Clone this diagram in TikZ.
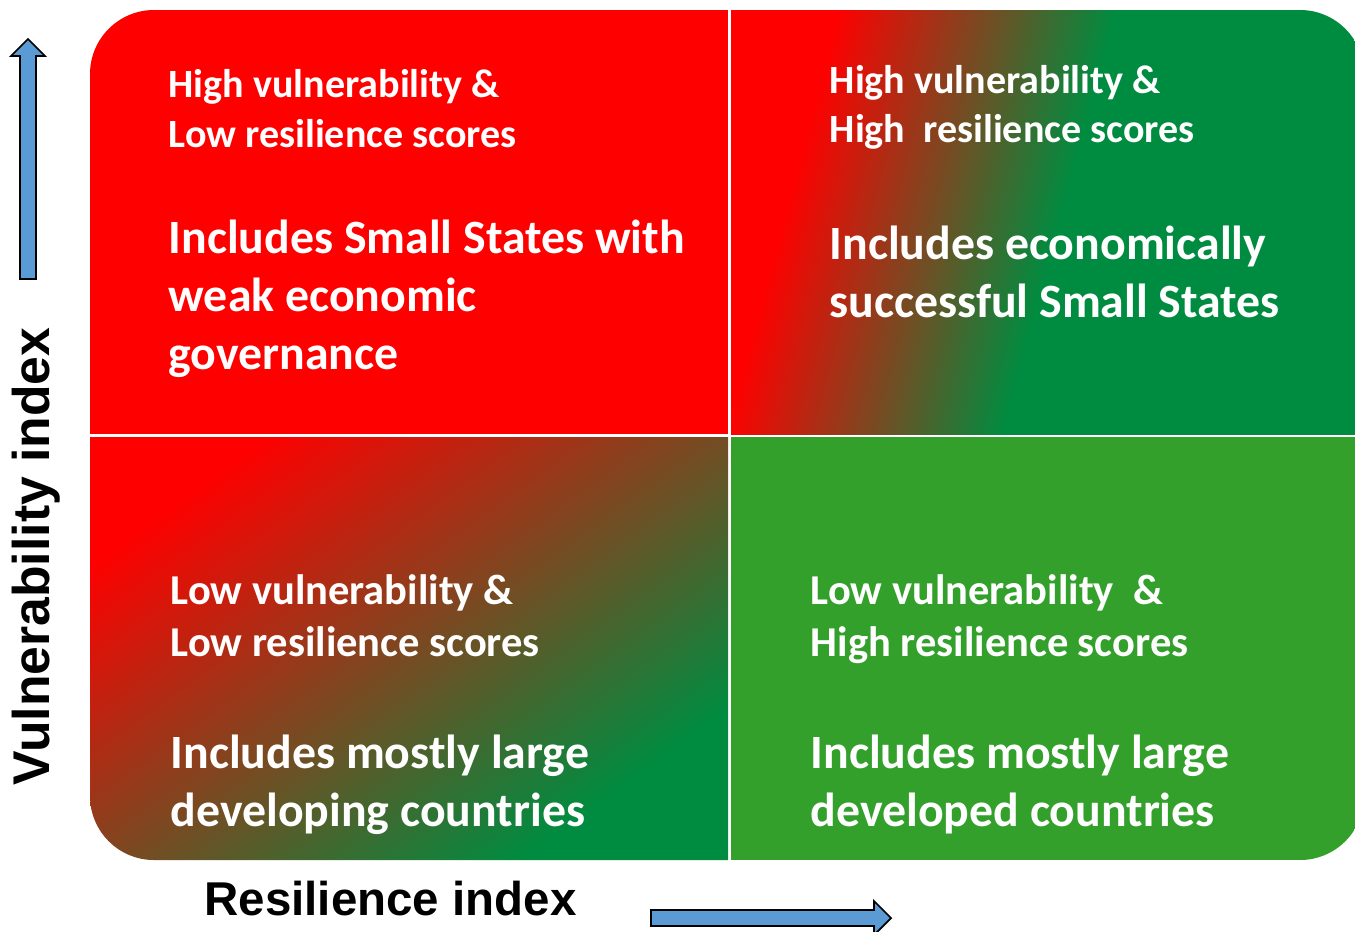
\documentclass[tikz,border=0pt]{standalone}
\usepackage{fontspec}
\newfontfamily\calfont{Carlito}
\newfontfamily\arfont{Liberation Sans}
\usepackage{tikz}
\definecolor{qred}{RGB}{255,0,0}
\definecolor{qgreen}{RGB}{0,140,64}
\definecolor{qlight}{RGB}{51,160,44}
\definecolor{ablue}{RGB}{91,155,213}
\pgfdeclarehorizontalshading{trshade}{100bp}{color(0bp)=(qred); color(28bp)=(qred); color(51bp)=(qgreen); color(100bp)=(qgreen)}
\pgfdeclarehorizontalshading{blshade}{100bp}{color(0bp)=(qred); color(25bp)=(qred); color(73bp)=(qgreen); color(100bp)=(qgreen)}

\begin{document}
\begin{tikzpicture}[
	small/.style = {text=white,inner sep=0pt,anchor=base west,align=left,font=\calfont\bfseries\fontsize{11.4}{14.2}\selectfont},
	lowsmall/.style = {small,font=\calfont\bfseries\fontsize{12.1}{14.8}\selectfont},
	big/.style = {small,font=\calfont\bfseries\fontsize{13.6}{16.5}\selectfont},
	axis/.style = {inner sep=0pt,anchor=base,font=\arfont\bfseries\fontsize{13.5}{16}\selectfont},
	blockarrow/.style = {draw=black,line width=0.5pt,fill=ablue}
	]
	\useasboundingbox (0,0) rectangle (13.55,9.31);
	%QUADRANTS
	\begin{scope}
		\clip[rounded corners=6.4mm] (0.9,0.71) rectangle (13.64,9.21);
		\fill[qred] (0.9,4.97) rectangle (7.28,9.21);
		\shade[shading=trshade,shading angle=-15] (7.31,4.97) rectangle (13.64,9.21);
		\shade[shading=blshade,shading angle=-54] (0.9,0.71) rectangle (7.28,4.94);
		\fill[qlight] (7.31,0.71) rectangle (13.64,4.94);
	\end{scope}
	%High vulnerability
	\node[small] (tlhead) at (1.68,7.84) {High vulnerability \&\\Low resilience scores};
	\node[big] (tlbody) at (1.68,5.62) {Includes Small States with\\weak economic\\governance};
	\node[small,font=\calfont\bfseries\fontsize{11.4}{13.8}\selectfont] (trhead) at (8.29,7.89) {High vulnerability \&\\High\ \ resilience scores};
	\node[big] (trbody) at (8.29,6.14) {Includes economically\\successful Small States};
	%Low vulnerability
	\node[lowsmall] (blhead) at (1.70,2.75) {Low vulnerability \&\\Low resilience scores};
	\node[big] (blbody) at (1.70,1.05) {Includes mostly large\\developing countries};
	\node[lowsmall] (brhead) at (8.10,2.75) {Low vulnerability\ \ \&\\High resilience scores};
	\node[big] (brbody) at (8.10,1.05) {Includes mostly large\\developed countries};
	%Axes
	\draw[blockarrow] (0.20,6.52) -- (0.20,8.75) -- (0.11,8.75) -- (0.28,8.92) -- (0.45,8.75) -- (0.36,8.75) -- (0.36,6.52) -- cycle;
	\node[axis,rotate=90,font=\arfont\bfseries\fontsize{14.7}{17}\selectfont] (vuln) at (0.50,3.745) {Vulnerability index};
	\draw[blockarrow] (6.51,0.21) -- (8.74,0.21) -- (8.74,0.30) -- (8.91,0.13) -- (8.74,-0.04) -- (8.74,0.05) -- (6.51,0.05) -- cycle;
	\node[axis] (resil) at (3.905,0.16) {Resilience index};
\end{tikzpicture}
\end{document}
